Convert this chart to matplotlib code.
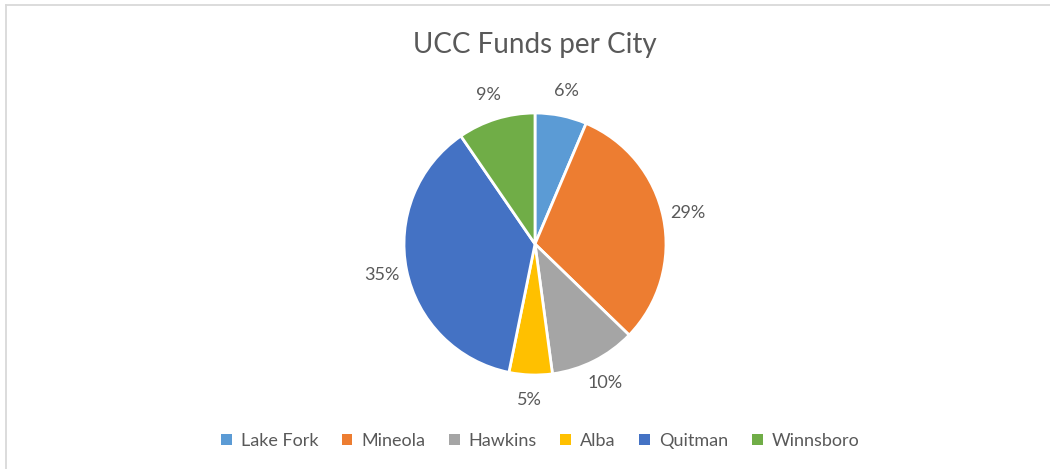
import matplotlib
matplotlib.use("Agg")
import matplotlib.pyplot as plt
from matplotlib.patches import Patch
from matplotlib.lines import Line2D

plt.rcParams['font.family'] = ['Lato', 'DejaVu Sans']

cities = ["Lake Fork", "Mineola", "Hawkins", "Alba", "Quitman", "Winnsboro"]
values = [0.06, 0.29, 0.10, 0.05, 0.35, 0.09]
colors = ["#5B9BD5", "#ED7D31", "#A5A5A5", "#FFC000", "#4472C4", "#70AD47"]
title = "UCC Funds per City"

W, H = 1050, 469
fig = plt.figure(figsize=(W / 100, H / 100), dpi=100)
ax = fig.add_axes([0, 0, 1, 1])
text_color = "#595959"

wedges, texts = ax.pie(
    values,
    colors=colors,
    startangle=90,
    counterclock=False,
    center=(535, H - 244),
    radius=131,
    labels=[f"{v*100:.0f}%" for v in values],
    labeldistance=1.19,
    wedgeprops=dict(edgecolor="white", linewidth=2),
    textprops=dict(color=text_color, fontsize=13),
    normalize=True,
)
for t in texts:
    t.set_ha("center")
    t.set_va("center")

ax.set_xlim(0, W)
ax.set_ylim(0, H)
ax.set_aspect("equal")
ax.axis("off")

# chart border (top and left visible)
fig.add_artist(Line2D([6 / W, 6 / W], [0, 1 - 5 / H], transform=fig.transFigure,
                      color="#D9D9D9", lw=1.3))
fig.add_artist(Line2D([6 / W, 1], [1 - 5 / H, 1 - 5 / H], transform=fig.transFigure,
                      color="#D9D9D9", lw=1.3))

fig.text(535 / W, 1 - 45 / H, title, ha="center", va="center",
         fontsize=20, color=text_color)

handles = [Patch(facecolor=c, edgecolor="none") for c in colors]
fig.legend(handles, cities, loc="center", bbox_to_anchor=(540 / W, 1 - 441 / H),
           ncol=6, frameon=False, fontsize=13, labelcolor=text_color,
           handlelength=0.6, handleheight=0.6, handletextpad=0.5,
           columnspacing=1.3)

fig.savefig("out.png", dpi=100, facecolor="white")
